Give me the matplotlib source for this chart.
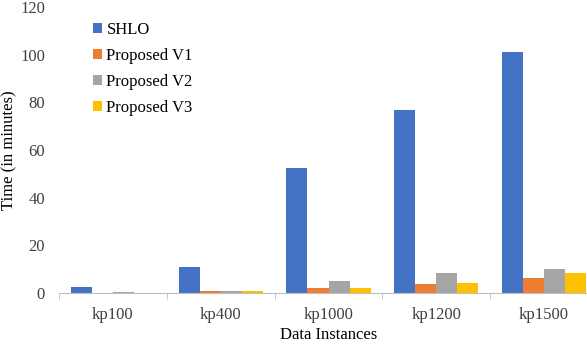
import matplotlib.pyplot as plt
import numpy as np

categories = ["kp100", "kp400", "kp1000", "kp1200", "kp1500"]
series_names = ["SHLO", "Proposed V1", "Proposed V2", "Proposed V3"]
shlo = [2.5, 10.9, 52.4, 76.7, 101.0]
v1 = [0.1, 0.8, 2.0, 3.8, 6.3]
v2 = [0.5, 0.8, 5.2, 8.4, 9.9]
v3 = [0.1, 0.8, 2.2, 4.2, 8.5]
colors = ["#4472C4", "#ED7D31", "#A5A5A5", "#FFC000"]

plt.rcParams['font.family'] = ['Liberation Serif', 'DejaVu Serif']
fig = plt.figure(figsize=(5.87, 3.44), dpi=100)
ax = fig.add_axes([59/587, 1-293/344, 539/587, 286/344])

x = np.arange(len(categories))
w = 0.195
for i, (vals, name) in enumerate(zip([shlo, v1, v2, v3], series_names)):
    ax.bar(x + (i - 1.5) * w, vals, w, color=colors[i], label=name)

ax.set_xlim(-0.5, 4.5)
ax.set_ylim(0, 120)
ax.set_yticks(range(0, 121, 20))
ax.set_xticks(x)
ax.set_xticklabels(categories, fontsize=12)
ax.tick_params(axis='y', length=0, labelsize=12, colors='#404040', pad=10)
ax.tick_params(axis='x', length=0, labelsize=12, colors='#404040', pad=10)
ax.set_xticks(np.arange(-0.5, 5, 1), minor=True)
ax.tick_params(axis='x', which='minor', length=4, color='#BFBFBF')
for s in ['top', 'right', 'left']:
    ax.spines[s].set_visible(False)
ax.spines['bottom'].set_color('#BFBFBF')
ax.set_xlabel("Data Instances", fontsize=12, labelpad=3)
ax.set_ylabel("Time (in minutes)", fontsize=12)
ax.yaxis.set_label_coords(-0.078, 0.5)

ax.legend(loc='upper left', bbox_to_anchor=(0.051, 0.972), frameon=False,
          fontsize=12, handlelength=0.55, handleheight=0.55, handletextpad=0.25,
          labelspacing=0.6, borderaxespad=0)

fig.savefig("out.png", dpi=100)
